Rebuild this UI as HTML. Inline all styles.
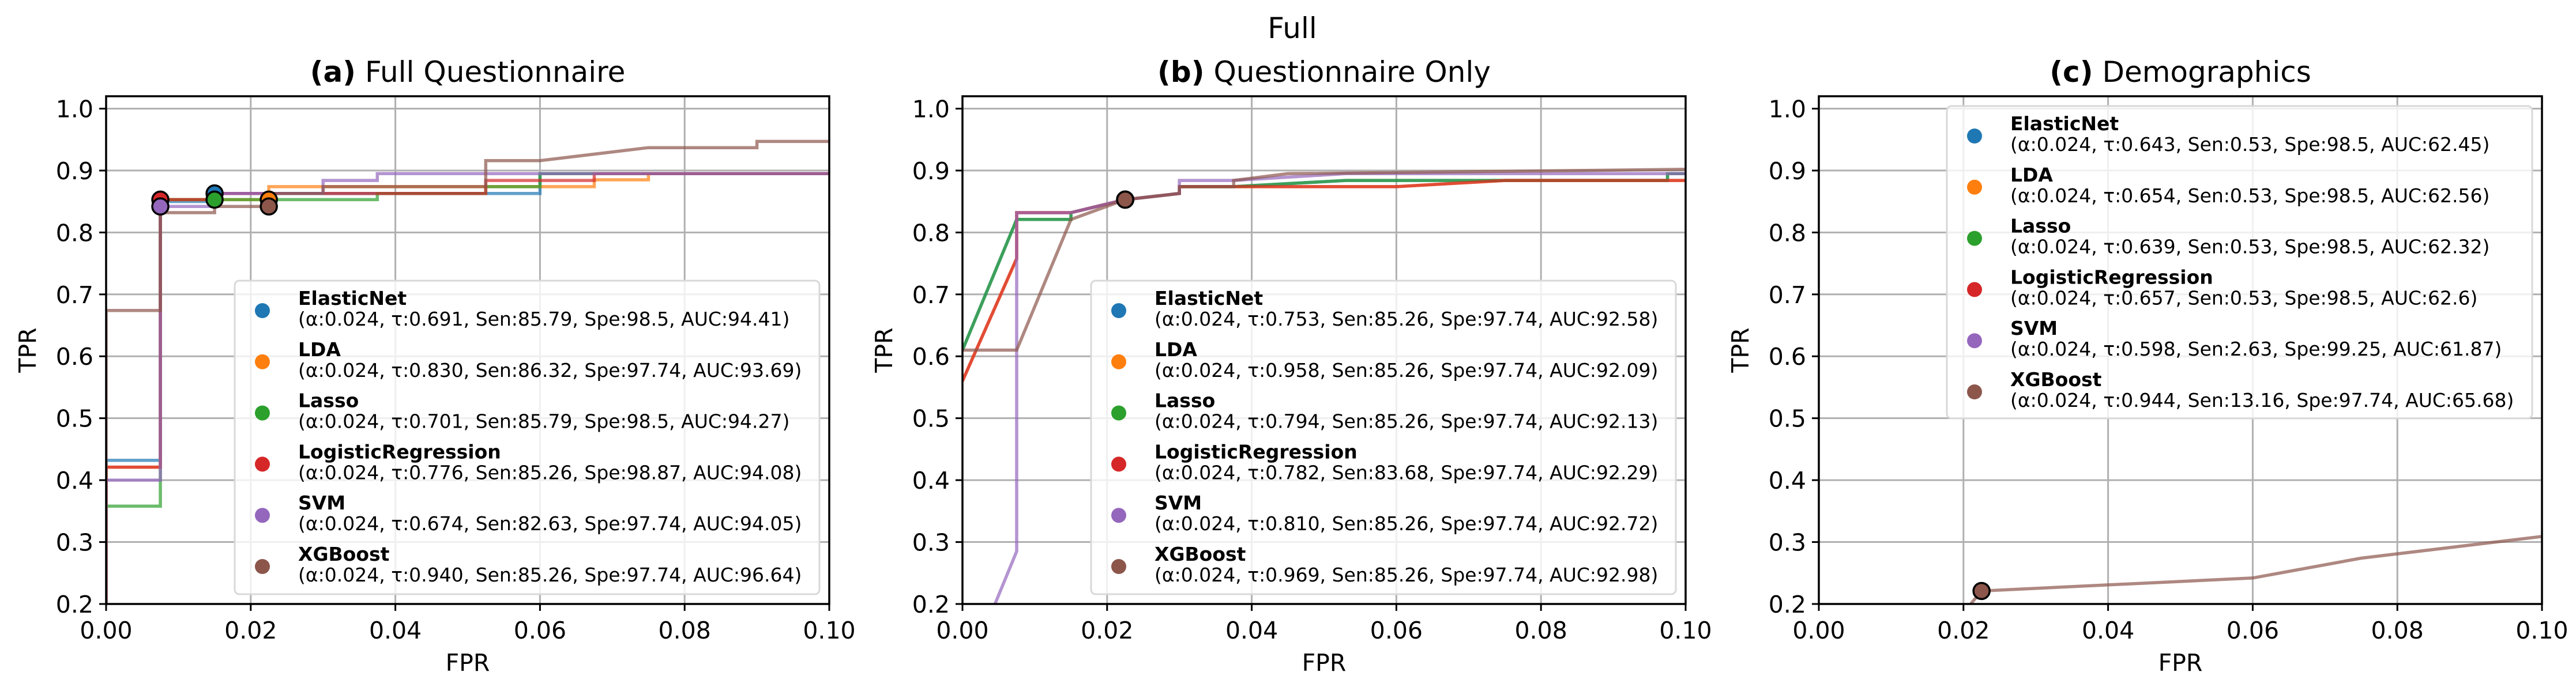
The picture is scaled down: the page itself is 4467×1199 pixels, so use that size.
<!DOCTYPE html>
<html><head><meta charset="utf-8"><style>
html,body{margin:0;padding:0;background:#fff;overflow:hidden;width:4467px;height:1199px}
svg{display:block}
text{font-family:"DejaVu Sans","Liberation Sans",sans-serif;fill:#000}
</style></head><body>
<svg id="fig" width="4467" height="1199" viewBox="0 0 4467 1199" xmlns="http://www.w3.org/2000/svg"></svg>
<script>
const models = ["ElasticNet","LDA","Lasso","LogisticRegression","SVM","XGBoost"];
const colors = ["#1f77b4","#ff7f0e","#2ca02c","#d62728","#9467bd","#8c564b"];
const xTicks = [0,0.02,0.04,0.06,0.08,0.1];
const xTickLabels = ["0.00","0.02","0.04","0.06","0.08","0.10"];
const yTicks = [0.2,0.3,0.4,0.5,0.6,0.7,0.8,0.9,1.0];
const yTickLabels = ["0.2","0.3","0.4","0.5","0.6","0.7","0.8","0.9","1.0"];
const panelTitles = [["(a)"," Full Questionnaire"],["(b)"," Questionnaire Only"],["(c)"," Demographics"]];
const aFpr = [
 [0,0,0.0075,0.0075,0.015,0.015,0.06,0.06,0.1],
 [0,0,0.0075,0.0075,0.0225,0.0225,0.0675,0.0675,0.075,0.075,0.1],
 [0,0,0.0075,0.0075,0.015,0.015,0.0375,0.0375,0.045,0.045,0.0525,0.0525,0.06,0.06,0.1],
 [0,0,0.0075,0.0075,0.015,0.015,0.0525,0.0525,0.0675,0.0675,0.1],
 [0,0,0.0075,0.0075,0.015,0.015,0.03,0.03,0.0375,0.0375,0.1],
 [0,0,0.0075,0.0075,0.015,0.015,0.0225,0.0225,0.03,0.03,0.0525,0.0525,0.06,0.075,0.09,0.09,0.1]];
const aTpr = [
 [0,0.432,0.432,0.85,0.85,0.863,0.863,0.895,0.895],
 [0,0.421,0.421,0.853,0.853,0.874,0.874,0.885,0.885,0.895,0.895],
 [0,0.358,0.358,0.853,0.853,0.853,0.853,0.863,0.863,0.863,0.863,0.874,0.874,0.895,0.895],
 [0,0.421,0.421,0.853,0.853,0.863,0.863,0.884,0.884,0.895,0.895],
 [0,0.4,0.4,0.842,0.842,0.863,0.863,0.884,0.884,0.895,0.895],
 [0,0.674,0.674,0.832,0.832,0.842,0.842,0.863,0.863,0.874,0.874,0.916,0.916,0.937,0.937,0.947,0.947]];
const aMarkFpr = [0.015,0.0225,0.015,0.0075,0.0075,0.0225];
const aMarkTpr = [0.863,0.853,0.853,0.853,0.842,0.842];
const bFpr = [
 [0,0.0075,0.015,0.015,0.0225,0.03,0.03,0.0375,0.053,0.0975,0.0975,0.1],
 [0,0.0075,0.0075,0.015,0.0225,0.03,0.03,0.06,0.075,0.1],
 [0,0.0075,0.015,0.015,0.0225,0.03,0.03,0.0375,0.053,0.0975,0.0975,0.1],
 [0,0.0075,0.0075,0.015,0.0225,0.03,0.03,0.06,0.075,0.1],
 [0.0045,0.0075,0.0075,0.015,0.0225,0.03,0.03,0.0375,0.053,0.1],
 [0,0.0075,0.015,0.0225,0.03,0.03,0.0375,0.0375,0.045,0.1]];
const bTpr = [
 [0.61,0.821,0.821,0.832,0.853,0.863,0.874,0.874,0.884,0.884,0.895,0.895],
 [0.56,0.758,0.832,0.832,0.853,0.863,0.874,0.874,0.884,0.884],
 [0.61,0.821,0.821,0.832,0.853,0.863,0.874,0.874,0.884,0.884,0.895,0.895],
 [0.56,0.758,0.832,0.832,0.853,0.863,0.874,0.874,0.884,0.884],
 [0.2,0.285,0.832,0.832,0.853,0.863,0.884,0.884,0.895,0.895],
 [0.61,0.61,0.821,0.853,0.863,0.874,0.874,0.884,0.895,0.902]];
const bMarkFpr = [0.0225,0.0225,0.0225,0.0225,0.0225,0.0225];
const bMarkTpr = [0.853,0.853,0.853,0.853,0.853,0.853];
const cFpr = [[],[],[],[],[],[0.021,0.0225,0.06,0.075,0.1]];
const cTpr = [[],[],[],[],[],[0.2,0.221,0.242,0.274,0.309]];
const cMarkFpr = [null,null,null,null,null,0.0225];
const cMarkTpr = [null,null,null,null,null,0.221];
const legendA = ["(α:0.024, τ:0.691, Sen:85.79, Spe:98.5, AUC:94.41)","(α:0.024, τ:0.830, Sen:86.32, Spe:97.74, AUC:93.69)","(α:0.024, τ:0.701, Sen:85.79, Spe:98.5, AUC:94.27)","(α:0.024, τ:0.776, Sen:85.26, Spe:98.87, AUC:94.08)","(α:0.024, τ:0.674, Sen:82.63, Spe:97.74, AUC:94.05)","(α:0.024, τ:0.940, Sen:85.26, Spe:97.74, AUC:96.64)"];
const legendB = ["(α:0.024, τ:0.753, Sen:85.26, Spe:97.74, AUC:92.58)","(α:0.024, τ:0.958, Sen:85.26, Spe:97.74, AUC:92.09)","(α:0.024, τ:0.794, Sen:85.26, Spe:97.74, AUC:92.13)","(α:0.024, τ:0.782, Sen:83.68, Spe:97.74, AUC:92.29)","(α:0.024, τ:0.810, Sen:85.26, Spe:97.74, AUC:92.72)","(α:0.024, τ:0.969, Sen:85.26, Spe:97.74, AUC:92.98)"];
const legendC = ["(α:0.024, τ:0.643, Sen:0.53, Spe:98.5, AUC:62.45)","(α:0.024, τ:0.654, Sen:0.53, Spe:98.5, AUC:62.56)","(α:0.024, τ:0.639, Sen:0.53, Spe:98.5, AUC:62.32)","(α:0.024, τ:0.657, Sen:0.53, Spe:98.5, AUC:62.6)","(α:0.024, τ:0.598, Sen:2.63, Spe:99.25, AUC:61.87)","(α:0.024, τ:0.944, Sen:13.16, Spe:97.74, AUC:65.68)"];

const NS="http://www.w3.org/2000/svg";
const svg=document.getElementById('fig');
function mk(tag,attrs,parent){const e=document.createElementNS(NS,tag);for(const k in attrs)e.setAttribute(k,attrs[k]);(parent||svg).appendChild(e);return e;}
function txt(s,x,y,size,anchor,weight,parent){
 const t=mk('text',{x:x,y:y,'font-size':size,'text-anchor':anchor||'start','font-weight':weight||'normal'},parent);
 t.textContent=s;return t;}

const t0=txt("Full",2241,66,50,'middle');



const panels=[
 {left:184,fpr:aFpr,tpr:aTpr,mf:aMarkFpr,mt:aMarkTpr,leg:legendA,lb:{x:407,y:487,w:1014,h:544}},
 {left:1669,fpr:bFpr,tpr:bTpr,mf:bMarkFpr,mt:bMarkTpr,leg:legendB,lb:{x:1892,y:487,w:1014,h:544}},
 {left:3154,fpr:cFpr,tpr:cTpr,mf:cMarkFpr,mt:cMarkTpr,leg:legendC,lb:{x:3376,y:184,w:1015,h:542}}];
const W=1254, TOP=167, BOT=1048, YMIN=0.2, YMAX=1.02, XMAX=0.1;

panels.forEach((p,pi)=>{
 const g=mk('g',{});
 
 
 const X=v=>p.left+v/XMAX*W;
 const Y=v=>BOT-(v-YMIN)/(YMAX-YMIN)*(BOT-TOP);
 const clipId='clip'+pi;
 const cp=mk('clipPath',{id:clipId},g);mk('rect',{x:p.left,y:TOP,width:W,height:BOT-TOP},cp);
 xTicks.forEach((v,i)=>{
  const gl=mk('line',{x1:X(v),x2:X(v),y1:TOP,y2:BOT,stroke:'#b0b0b0','stroke-width':3},g);
  
  
  mk('line',{x1:X(v),x2:X(v),y1:BOT,y2:BOT+12,stroke:'#000','stroke-width':3},g);
  const tl=txt(xTickLabels[i],X(v),1108,41,'middle',null,g);
  
  
 });
 yTicks.forEach((v,i)=>{
  const gl=mk('line',{x1:p.left,x2:p.left+W,y1:Y(v),y2:Y(v),stroke:'#b0b0b0','stroke-width':3},g);
  
  
  mk('line',{x1:p.left-12,x2:p.left,y1:Y(v),y2:Y(v),stroke:'#000','stroke-width':3},g);
  const tl=txt(yTickLabels[i],p.left-22,Y(v)+15,41,'end',null,g);
  
  
 });
 const sg=mk('g',{'clip-path':`url(#${clipId})`},g);
 models.forEach((m,si)=>{
  const xs=p.fpr[si], ys=p.tpr[si];
  if(!xs.length) return;
  const pts=xs.map((x,k)=>X(x).toFixed(1)+','+Y(ys[k]).toFixed(1)).join(' ');
  const pl=mk('polyline',{points:pts,fill:'none',stroke:colors[si],'stroke-width':5.5,'stroke-opacity':0.7},sg);
  
  
 });
 models.forEach((m,si)=>{
  if(p.mf[si]==null) return;
  const mkr=mk('circle',{cx:X(p.mf[si]),cy:Y(p.mt[si]),r:14,fill:colors[si],stroke:'#000','stroke-width':3.5},sg);
  
  
 });
 mk('rect',{x:p.left,y:TOP,width:W,height:BOT-TOP,fill:'none',stroke:'#000','stroke-width':3.5},g);
 const tt=mk('text',{x:p.left+W/2,y:142,'font-size':50,'text-anchor':'middle'},g);
 
 
 const b=mk('tspan',{'font-weight':'bold'},tt);b.textContent=panelTitles[pi][0];
 const n=mk('tspan',{},tt);n.textContent=panelTitles[pi][1];
 const xl=txt('FPR',p.left+W/2,1164,41,'middle',null,g);
 
 
 const yl=mk('text',{transform:`translate(${p.left-122},${(TOP+BOT)/2}) rotate(-90)`,'font-size':41,'text-anchor':'middle'},g);
 yl.textContent='TPR';
 
 
 const lb=p.lb;
 const lg=mk('g',{},g);
 
 
 mk('rect',{x:lb.x,y:lb.y,width:lb.w,height:lb.h,rx:8,fill:'#fff','fill-opacity':0.8,stroke:'#d8d8d8','stroke-width':3},lg);
 models.forEach((m,si)=>{
  const ry=lb.y+42+si*88.8;
  const e=mk('g',{},lg);
  
  
  mk('circle',{cx:lb.x+48,cy:ry+10,r:13,fill:colors[si]},e);
  txt(m,lb.x+110,ry,33,'start','bold',e);
  txt(p.leg[si],lb.x+110,ry+36,33,'start',null,e);
 });
});
</script>
</body></html>
